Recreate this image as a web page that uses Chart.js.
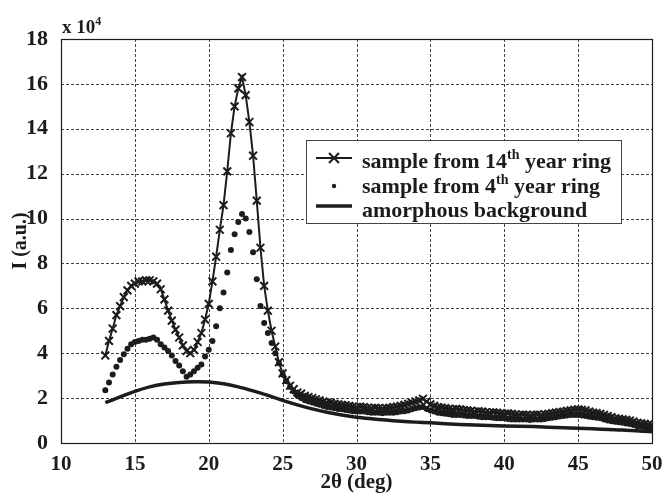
<!DOCTYPE html>
<html lang="en">
<head>
<meta charset="UTF-8">
<title>XRD pattern</title>
<style>
  body { margin: 0; background: #fff; }
  #wrap { width: 664px; height: 495px; }
</style>
</head>
<body>
<div id="wrap"><canvas id="myChart"></canvas></div>
<script src="https://cdn.jsdelivr.net/npm/chart.js"></script>
<script>
// 2theta grid shared by both samples (deg)
const theta = [
  13, 13.25, 13.5, 13.75, 14, 14.25, 14.5, 14.75, 15, 15.25, 15.5, 15.75,
  16, 16.25, 16.5, 16.75, 17, 17.25, 17.5, 17.75, 18, 18.25, 18.5, 18.75,
  19, 19.25, 19.5, 19.75, 20, 20.25, 20.5, 20.75, 21, 21.25, 21.5, 21.75,
  22, 22.25, 22.5, 22.75, 23, 23.25, 23.5, 23.75, 24, 24.25, 24.5, 24.75, 25,
  25.25, 25.5, 25.75, 26, 26.25, 26.5, 26.75, 27,
  27.25, 27.5, 27.75, 28, 28.25, 28.5, 28.75, 29,
  29.25, 29.5, 29.75, 30, 30.25, 30.5, 30.75, 31,
  31.25, 31.5, 31.75, 32, 32.25, 32.5, 32.75, 33,
  33.25, 33.5, 33.75, 34, 34.25, 34.5, 34.75, 35,
  35.25, 35.5, 35.75, 36, 36.25, 36.5, 36.75, 37,
  37.25, 37.5, 37.75, 38, 38.25, 38.5, 38.75, 39,
  39.25, 39.5, 39.75, 40, 40.25, 40.5, 40.75, 41,
  41.25, 41.5, 41.75, 42, 42.25, 42.5, 42.75, 43,
  43.25, 43.5, 43.75, 44, 44.25, 44.5, 44.75, 45,
  45.25, 45.5, 45.75, 46, 46.25, 46.5, 46.75, 47,
  47.25, 47.5, 47.75, 48, 48.25, 48.5, 48.75, 49,
  49.25, 49.5, 49.75, 50
];
// intensity, x 10^4
const ring14 = [
  3.9, 4.55, 5.1, 5.7, 6.1, 6.5, 6.8, 7.0, 7.1, 7.2, 7.2, 7.25,
  7.25, 7.2, 7.1, 6.85, 6.4, 5.9, 5.45, 5.05, 4.7, 4.35, 4.1, 4.0,
  4.15, 4.5, 4.9, 5.5, 6.2, 7.2, 8.3, 9.5, 10.6, 12.1, 13.8, 15.0,
  15.8, 16.3, 15.5, 14.3, 12.8, 10.8, 8.7, 7.0, 5.9, 5.0, 4.3, 3.6, 3.1,
  2.8, 2.55, 2.4, 2.25, 2.2, 2.1, 2.05, 2.0,
  1.95, 1.9, 1.85, 1.8, 1.8, 1.75, 1.72, 1.7,
  1.68, 1.65, 1.62, 1.6, 1.62, 1.6, 1.57, 1.55,
  1.57, 1.55, 1.53, 1.55, 1.57, 1.6, 1.62, 1.65,
  1.7, 1.75, 1.8, 1.85, 1.9, 1.97, 1.85, 1.72,
  1.65, 1.6, 1.58, 1.55, 1.52, 1.5, 1.52, 1.5,
  1.47, 1.45, 1.43, 1.4, 1.42, 1.4, 1.37, 1.35,
  1.37, 1.35, 1.32, 1.3, 1.32, 1.3, 1.27, 1.25,
  1.27, 1.25, 1.23, 1.25, 1.27, 1.25, 1.28, 1.3,
  1.33, 1.35, 1.38, 1.4, 1.43, 1.45, 1.48, 1.5,
  1.48, 1.45, 1.4, 1.35, 1.33, 1.3, 1.25, 1.2,
  1.15, 1.1, 1.08, 1.05, 1.03, 1.0, 0.95, 0.9,
  0.88, 0.85, 0.82, 0.8
];
const ring4 = [
  2.35, 2.7, 3.05, 3.4, 3.7, 3.95, 4.2, 4.4, 4.5, 4.55, 4.6, 4.6,
  4.65, 4.7, 4.6, 4.4, 4.25, 4.1, 3.9, 3.65, 3.45, 3.2, 2.95, 3.05,
  3.2, 3.35, 3.5, 3.85, 4.15, 4.55, 5.2, 6.0, 6.7, 7.6, 8.6, 9.3,
  9.85, 10.2, 10.0, 9.4, 8.5, 7.3, 6.1, 5.35, 4.9, 4.45, 4.0, 3.55, 3.05,
  2.75, 2.5, 2.3, 2.1, 2.0, 1.9, 1.85, 1.8,
  1.75, 1.7, 1.65, 1.6, 1.58, 1.55, 1.52, 1.5,
  1.47, 1.45, 1.42, 1.4, 1.4, 1.4, 1.37, 1.35,
  1.35, 1.35, 1.33, 1.35, 1.35, 1.35, 1.37, 1.4,
  1.42, 1.45, 1.5, 1.55, 1.58, 1.6, 1.52, 1.45,
  1.4, 1.35, 1.32, 1.3, 1.28, 1.25, 1.25, 1.25,
  1.22, 1.2, 1.2, 1.2, 1.17, 1.15, 1.15, 1.15,
  1.12, 1.1, 1.1, 1.1, 1.07, 1.05, 1.05, 1.05,
  1.05, 1.05, 1.03, 1.05, 1.05, 1.05, 1.07, 1.1,
  1.12, 1.15, 1.18, 1.2, 1.22, 1.25, 1.25, 1.25,
  1.22, 1.2, 1.17, 1.15, 1.12, 1.1, 1.05, 1.0,
  0.97, 0.95, 0.92, 0.9, 0.87, 0.85, 0.8, 0.75,
  0.72, 0.7, 0.67, 0.65
];
// amorphous background
const bgTheta = [13, 14, 15, 16, 17, 18, 19, 20, 21, 22, 23, 24, 25, 26, 27, 28,
  29, 30, 31, 32, 33, 34, 35, 36, 38, 40, 42, 44, 46, 48, 50];
const bgI = [1.8, 2.05, 2.3, 2.5, 2.63, 2.7, 2.73, 2.72, 2.64, 2.5, 2.32, 2.12,
  1.9, 1.7, 1.52, 1.37, 1.25, 1.15, 1.08, 1.02, 0.97, 0.93, 0.9, 0.86,
  0.8, 0.76, 0.73, 0.68, 0.63, 0.58, 0.5];

const xTicks = [10, 15, 20, 25, 30, 35, 40, 45, 50];
const yTicks = [0, 2, 4, 6, 8, 10, 12, 14, 16, 18];

const FONT = '"Liberation Serif", "Times New Roman", serif';
const INK = '#1c1c1c';

function pts(xs, ys) {
  return xs.map((x, i) => ({ x: x, y: ys[i] }));
}

// text with a small raised part, e.g. 14th
function supText(ctx, parts, x, y, size) {
  for (const p of parts) {
    const s = p.sup ? Math.round(size * 0.62) : size;
    ctx.font = 'bold ' + s + 'px ' + FONT;
    ctx.fillText(p.t, x, p.sup ? y - size * 0.42 : y);
    x += ctx.measureText(p.t).width;
  }
}

// dotted grid like the original plot
const dottedGrid = {
  id: 'dottedGrid',
  beforeDatasetsDraw(chart) {
    const ctx = chart.ctx;
    const a = chart.chartArea;
    const xs = chart.scales.x, ys = chart.scales.y;
    ctx.save();
    ctx.strokeStyle = '#444';
    ctx.lineWidth = 1;
    ctx.setLineDash([3, 2]);
    ctx.beginPath();
    xTicks.forEach(v => {
      const px = Math.round(xs.getPixelForValue(v)) + 0.5;
      ctx.moveTo(px, a.top); ctx.lineTo(px, a.bottom);
    });
    yTicks.forEach(v => {
      const py = Math.round(ys.getPixelForValue(v)) + 0.5;
      ctx.moveTo(a.left, py); ctx.lineTo(a.right, py);
    });
    ctx.stroke();
    ctx.restore();
  }
};

const decor = {
  id: 'decor',
  afterDraw(chart) {
    const ctx = chart.ctx;
    const a = chart.chartArea;
    ctx.save();
    // frame
    ctx.strokeStyle = INK;
    ctx.lineWidth = 1.2;
    ctx.setLineDash([]);
    ctx.strokeRect(a.left + 0.5, a.top + 0.5, a.right - a.left, a.bottom - a.top);

    // exponent above the y axis
    ctx.fillStyle = INK;
    ctx.textBaseline = 'alphabetic';
    supText(ctx, [{ t: 'x 10' }, { t: '4', sup: true }], a.left + 1, a.top - 6, 19);

    // legend box
    const lx = 306, ly = 140, lw = 315, lh = 83;
    ctx.fillStyle = '#fff';
    ctx.fillRect(lx, ly, lw, lh);
    ctx.lineWidth = 1;
    ctx.strokeStyle = '#444';
    ctx.strokeRect(lx + 0.5, ly + 0.5, lw, lh);

    ctx.strokeStyle = INK;
    ctx.fillStyle = INK;
    // row 1: line with cross
    ctx.lineWidth = 2;
    ctx.beginPath();
    ctx.moveTo(316, 158); ctx.lineTo(352, 158);
    ctx.moveTo(329, 153); ctx.lineTo(339, 163);
    ctx.moveTo(339, 153); ctx.lineTo(329, 163);
    ctx.stroke();
    // row 2: dot
    ctx.beginPath();
    ctx.arc(334, 186, 2.2, 0, Math.PI * 2);
    ctx.fill();
    // row 3: thick line
    ctx.lineWidth = 3.5;
    ctx.beginPath();
    ctx.moveTo(316, 206); ctx.lineTo(352, 206);
    ctx.stroke();

    supText(ctx, [{ t: 'sample from 14' }, { t: 'th', sup: true }, { t: ' year ring' }], 362, 168, 22);
    supText(ctx, [{ t: 'sample from 4' }, { t: 'th', sup: true }, { t: ' year ring' }], 362, 193, 22);
    supText(ctx, [{ t: 'amorphous background' }], 362, 217, 22);
    ctx.restore();
  }
};

const ctx = document.getElementById('myChart');

new Chart(ctx, {
  type: 'scatter',
  data: {
    datasets: [
      {
        label: 'sample from 14th year ring',
        data: pts(theta, ring14),
        showLine: true,
        borderColor: INK,
        borderWidth: 2,
        pointStyle: 'crossRot',
        pointRadius: 5.5,
        pointBorderWidth: 2,
        pointBorderColor: INK,
        tension: 0
      },
      {
        label: 'sample from 4th year ring',
        data: pts(theta, ring4),
        showLine: false,
        pointStyle: 'circle',
        pointRadius: 3,
        pointBorderWidth: 0,
        pointBackgroundColor: INK
      },
      {
        label: 'amorphous background',
        data: pts(bgTheta, bgI),
        showLine: true,
        borderColor: INK,
        borderWidth: 3.5,
        pointRadius: 0,
        tension: 0.3
      }
    ]
  },
  options: {
    responsive: true,
    maintainAspectRatio: false,
    animation: false,
    layout: { padding: { top: 39, right: 12, left: 0, bottom: 0 } },
    plugins: {
      legend: { display: false },
      tooltip: { enabled: false }
    },
    scales: {
      x: {
        type: 'linear',
        min: 10,
        max: 50,
        afterFit: s => { s.height = 52; },
        afterBuildTicks: s => { s.ticks = xTicks.map(v => ({ value: v })); },
        grid: { display: false },
        border: { display: false },
        ticks: {
          color: INK,
          padding: 1,
          maxRotation: 0,
          font: { family: FONT, size: 21, weight: 'bold' }
        },
        title: {
          display: true,
          text: '2θ (deg)',
          color: INK,
          padding: { top: 0, bottom: 0 },
          font: { family: FONT, size: 21, weight: 'bold' }
        }
      },
      y: {
        type: 'linear',
        min: 0,
        max: 18,
        afterFit: s => { s.width = 61; },
        afterBuildTicks: s => { s.ticks = yTicks.map(v => ({ value: v })); },
        grid: { display: false },
        border: { display: false },
        ticks: {
          color: INK,
          padding: 5,
          font: { family: FONT, size: 22, weight: 'bold' }
        },
        title: {
          display: true,
          text: 'I (a.u.)',
          color: INK,
          padding: { top: 9, bottom: 0 },
          font: { family: FONT, size: 20, weight: 'bold' }
        }
      }
    }
  },
  plugins: [dottedGrid, decor]
});
</script>
</body>
</html>
